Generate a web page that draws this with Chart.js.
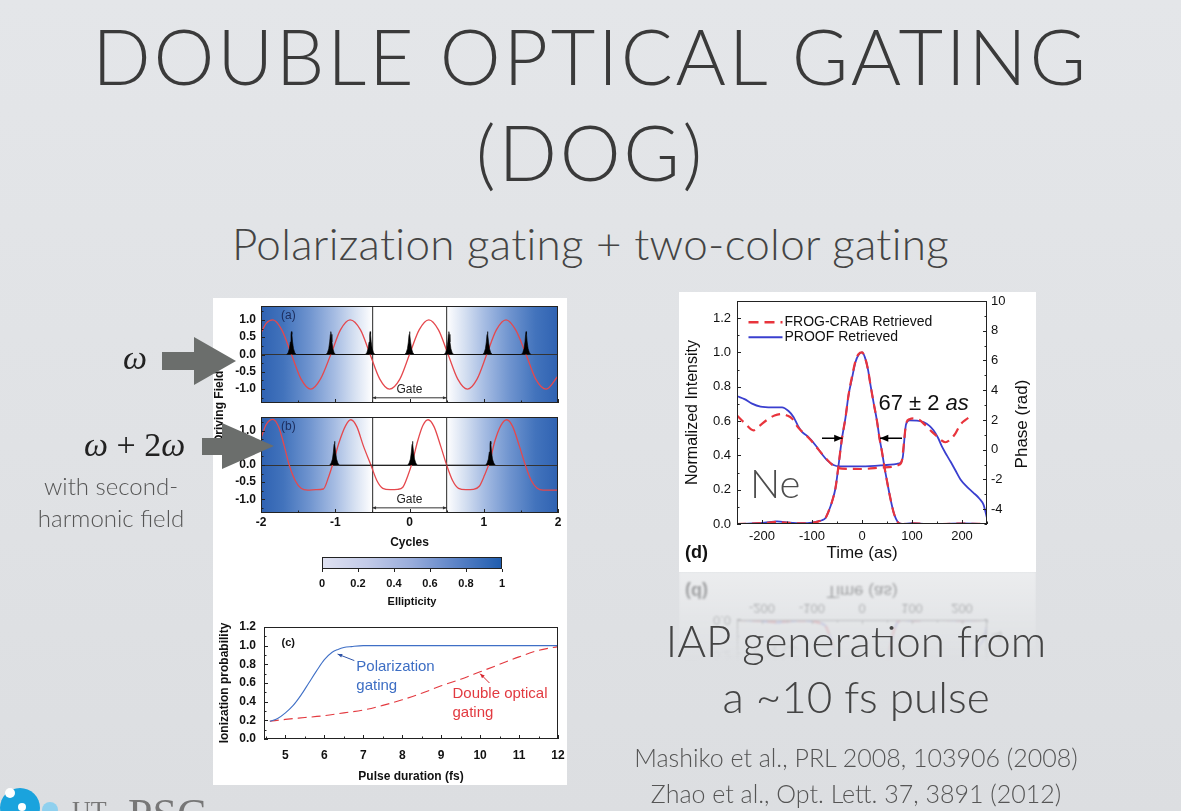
<!DOCTYPE html>
<html>
<head>
<meta charset="utf-8">
<script src="https://cdn.jsdelivr.net/npm/chart.js@4.4.0/dist/chart.umd.min.js"></script>
<style>
  html, body { margin: 0; padding: 0; }
  body {
    width: 1181px; height: 811px; overflow: hidden; position: relative;
    background: linear-gradient(180deg, #e4e6e9 0%, #e0e2e5 55%, #dcdee1 100%);
    font-family: Lato, 'Open Sans', sans-serif; color: #3b3b3b;
  }
  .abs { position: absolute; }
  .t { position: absolute; white-space: nowrap; line-height: 1; font-weight: 300; text-align: center; }
  .box { position: absolute; background: #fff; }
  .math { position: absolute; white-space: nowrap; line-height: 1; font-family: 'Liberation Serif', serif; font-style: italic; color: #222; }
</style>
</head>
<body>

<div class="t" style="left:0;width:1181px;top:17px;font-size:77px;letter-spacing:2.7px;color:#3a3a3a">DOUBLE OPTICAL GATING</div>
<div class="t" style="left:0;width:1181px;top:113px;font-size:77px;letter-spacing:2.7px;color:#3a3a3a">(DOG)</div>
<div class="t" style="left:0;width:1181px;top:221px;font-size:44px;letter-spacing:0.3px;color:#444">Polarization gating + two-color gating</div>

<!-- left figure -->
<div class="box" style="left:213px;top:298px;width:354px;height:487px"></div>
<canvas id="cA" class="abs" width="353" height="108" style="left:213px;top:300px"></canvas>
<canvas id="cB" class="abs" width="353" height="140" style="left:213px;top:411px"></canvas>
<canvas id="cBar" class="abs" width="353" height="60" style="left:213px;top:551px"></canvas>
<canvas id="cC" class="abs" width="353" height="166" style="left:213px;top:620px"></canvas>
<div class="abs" style="left:179px;top:400px;width:80px;text-align:center;transform:rotate(-90deg);font:bold 12px 'Liberation Sans',Arial,sans-serif;color:#111;line-height:14px">Driving Field</div>

<!-- right figure and its reflection -->
<div class="abs" style="left:679px;top:572px;width:357px;height:280px;transform:scaleY(-1);opacity:0.4;filter:blur(0.8px);
  -webkit-mask-image:linear-gradient(to top, #000 0%, rgba(0,0,0,0) 32%);mask-image:linear-gradient(to top, #000 0%, rgba(0,0,0,0) 32%)">
  <div class="box" style="left:0;top:0;width:357px;height:280px"></div>
  <canvas id="cDr" class="abs" width="357" height="280" style="left:0;top:0"></canvas>
</div>
<div class="box" style="left:679px;top:292px;width:357px;height:280px"></div>
<canvas id="cD" class="abs" width="357" height="280" style="left:679px;top:292px"></canvas>

<!-- side labels and arrows -->
<div class="math" style="left:123px;top:341px;font-size:34px">ω</div>
<div class="math" style="left:84px;top:428px;font-size:34px">ω <span style="font-style:normal">+ 2</span>ω</div>
<div class="t" style="left:11px;width:200px;top:474px;font-size:24px;color:#555">with second-</div>
<div class="t" style="left:11px;width:200px;top:506px;font-size:24px;color:#555">harmonic field</div>
<svg class="abs" style="left:0;top:0" width="1181" height="811">
  <polygon points="162,352 194,352 194,337 236,361 194,385 194,370 162,370" fill="#6b6e6c"/>
  <polygon points="202,438 222,438 222,423 274,446 222,469 222,455 202,455" fill="#6b6e6c"/>
</svg>

<div class="t" style="left:556px;width:600px;top:618px;font-size:44px;color:#444">IAP generation from</div>
<div class="t" style="left:556px;width:600px;top:674px;font-size:44px;color:#444">a ~10 fs pulse</div>
<div class="t" style="left:556px;width:600px;top:745px;font-size:25px;color:#555">Mashiko et al., PRL 2008, 103906 (2008)</div>
<div class="t" style="left:556px;width:600px;top:781px;font-size:25px;color:#555">Zhao et al., Opt. Lett. 37, 3891 (2012)</div>

<!-- logo (cut by the slide edge) -->
<div class="abs" style="left:0;top:788px;width:40px;height:40px;border-radius:50%;background:#1aa3dd"></div>
<div class="abs" style="left:5px;top:788px;width:10px;height:10px;border-radius:50%;background:#fff"></div>
<div class="abs" style="left:18px;top:803px;width:8px;height:8px;border-radius:50%;background:#fff"></div>
<div class="abs" style="left:42px;top:802px;width:16px;height:16px;border-radius:50%;background:#8fd0ee"></div>
<div class="abs" style="left:72px;top:798px;font:26px 'Liberation Serif',serif;color:#777;line-height:1">UT</div>
<div class="abs" style="left:128px;top:793px;font:44px 'Liberation Serif',serif;color:#777;line-height:1">PSC</div>

<script>
// (a) поле основной частоты, циклы
const A_FIELD_X = [-2.0, -1.93, -1.84, -1.72, -1.59, -1.46, -1.33, -1.2, -1.06, -0.93, -0.8, -0.66, -0.53, -0.4, -0.27, -0.13, 0.0, 0.13, 0.26, 0.39, 0.52, 0.65, 0.78, 0.91, 1.04, 1.17, 1.3, 1.43, 1.57, 1.7, 1.84, 2.0];
const A_FIELD_Y = [0.62, 0.9, 1.0, 0.71, 0.0, -0.71, -1.0, -0.71, 0.0, 0.71, 1.0, 0.71, 0.0, -0.71, -1.0, -0.71, 0.0, 0.71, 1.0, 0.71, 0.0, -0.71, -1.0, -0.71, 0.0, 0.71, 1.0, 0.71, 0.0, -0.71, -1.0, -0.62];
const A_PULSE_X = [-1.59, -1.06, -0.53, 0.0, 0.53, 1.05, 1.57];
const A_PULSE_H = 0.66;

// (b) двухцветное поле
const B_FIELD_X = [-2.0, -1.93, -1.84, -1.76, -1.68, -1.62, -1.54, -1.46, -1.37, -1.26, -1.16, -1.09, -1.03, -0.95, -0.86, -0.79, -0.71, -0.62, -0.52, -0.44, -0.36, -0.26, -0.16, -0.09, -0.02, 0.04, 0.11, 0.18, 0.25, 0.33, 0.42, 0.5, 0.58, 0.66, 0.76, 0.86, 0.94, 1.01, 1.08, 1.15, 1.23, 1.31, 1.39, 1.48, 1.56, 1.64, 1.72, 1.8, 1.9, 2.0];
const B_FIELD_Y = [0.78, 1.18, 1.33, 1.1, 0.5, 0.0, -0.45, -0.68, -0.73, -0.72, -0.7, -0.35, 0.05, 0.65, 1.15, 1.32, 1.12, 0.55, 0.0, -0.45, -0.68, -0.72, -0.71, -0.65, -0.3, 0.1, 0.7, 1.15, 1.32, 1.12, 0.55, 0.0, -0.45, -0.68, -0.72, -0.71, -0.62, -0.3, 0.1, 0.7, 1.15, 1.32, 1.12, 0.55, 0.0, -0.45, -0.68, -0.73, -0.73, -0.73];
const B_PULSE_X = [-1.01, 0.04, 1.09];
const B_PULSE_H = 0.69;

// форма аттосекундного импульса (смещение в циклах, доля высоты)
const PULSE_DX = [-0.065, -0.045, -0.028, -0.015, -0.006, 0, 0.006, 0.015, 0.028, 0.045, 0.065];
const PULSE_SHAPE = [0, 0.08, 0.25, 0.55, 0.88, 1, 0.88, 0.55, 0.25, 0.08, 0];

// (c) вероятность ионизации от длительности импульса
const C_PG_X = [4.6, 4.8, 5.0, 5.2, 5.4, 5.6, 5.8, 6.0, 6.2, 6.35, 6.5, 6.7, 7.0, 8.0, 9.0, 10.0, 11.0, 12.0];
const C_PG_Y = [0.19, 0.22, 0.28, 0.36, 0.47, 0.6, 0.73, 0.85, 0.93, 0.96, 0.98, 0.99, 1.0, 1.0, 1.0, 1.0, 1.0, 1.0];
const C_DOG_X = [4.6, 5.0, 5.5, 6.0, 6.5, 7.0, 7.5, 8.0, 8.5, 9.0, 9.5, 10.0, 10.5, 11.0, 11.5, 12.0];
const C_DOG_Y = [0.19, 0.21, 0.23, 0.25, 0.28, 0.31, 0.36, 0.42, 0.49, 0.57, 0.64, 0.72, 0.8, 0.88, 0.95, 0.99];

// (d) интенсивность и фаза, время в ас
const D_INT_T = [-250, -220, -195, -170, -145, -120, -100, -88, -80, -73, -66, -60, -53, -47, -40, -33, -27, -20, -13, -7, 0, 6, 12, 17, 23, 30, 35, 40, 45, 50, 56, 63, 68, 73, 80, 100, 130, 160, 200, 250];
const D_PROOF_INT = [0.0, 0.003, 0.008, 0.015, 0.008, 0.005, 0.008, 0.015, 0.022, 0.035, 0.08, 0.13, 0.21, 0.34, 0.5, 0.62, 0.75, 0.85, 0.945, 0.985, 1.0, 0.97, 0.9, 0.81, 0.71, 0.6, 0.5, 0.42, 0.33, 0.25, 0.16, 0.07, 0.03, 0.008, 0.0, 0.005, 0.0, 0.0, 0.003, 0.0];
const D_FROG_INT = [0.0, 0.002, 0.006, 0.012, 0.006, 0.004, 0.007, 0.014, 0.022, 0.035, 0.08, 0.13, 0.21, 0.34, 0.5, 0.62, 0.75, 0.86, 0.95, 0.99, 1.0, 0.97, 0.9, 0.81, 0.71, 0.6, 0.5, 0.42, 0.33, 0.25, 0.16, 0.07, 0.03, 0.006, 0.0, 0.004, 0.0, 0.0, 0.002, 0.0];
const D_PROOF_PH_T = [-250, -235, -220, -203, -180, -160, -147, -137, -128, -120, -107, -93, -80, -70, -57, -45, -33, 0, 40, 70, 78, 82, 85, 88, 95, 110, 123, 135, 143, 152, 160, 170, 177, 187, 197, 210, 223, 235, 243, 250];
const D_PROOF_PH = [3.6, 3.4, 3.1, 2.9, 2.85, 2.85, 2.6, 2.2, 1.6, 1.2, 0.85, 0.3, -0.3, -0.7, -1.03, -1.12, -1.12, -1.12, -1.05, -0.95, -0.85, -0.4, 0.8, 1.7, 1.97, 1.95, 1.85, 1.6, 1.3, 0.8, 0.2, -0.4, -0.8, -1.4, -2.0, -2.5, -2.9, -3.3, -3.7, -4.6];
const D_FROG_PH_T = [-250, -235, -217, -205, -190, -175, -160, -150, -140, -128, -113, -100, -87, -73, -60, -50, -40, 0, 40, 75, 80, 84, 88, 95, 105, 113, 125, 140, 150, 160, 167, 177, 187, 197, 207, 219];
const D_FROG_PH = [2.3, 1.8, 1.3, 1.6, 2.0, 2.3, 2.4, 2.3, 2.1, 1.5, 1.0, 0.55, 0.0, -0.55, -1.0, -1.2, -1.28, -1.3, -1.2, -1.0, -0.7, 0.5, 1.7, 2.05, 2.1, 2.05, 1.7, 1.2, 0.9, 0.6, 0.5, 0.7, 1.1, 1.7, 2.0, 2.3];

const FONT = "'Liberation Sans', Arial, sans-serif";
Chart.defaults.font.family = FONT;
Chart.defaults.color = '#111';
Chart.defaults.animation = false;
Chart.defaults.events = [];
Chart.defaults.plugins.legend.display = false;
Chart.defaults.plugins.tooltip.enabled = false;
Chart.defaults.elements.point.radius = 0;

const pts = (xs, ys) => xs.map((x, i) => ({ x, y: ys[i] }));
const pulseTrain = (centers, h) => {
  const out = [];
  centers.forEach(c => PULSE_DX.forEach((d, i) => out.push({ x: c + d, y: PULSE_SHAPE[i] * h })));
  return out;
};
const fitX = h => s => { s.height = h; s.paddingLeft = 0; s.paddingRight = 0; };
const fitY = w => s => { s.width = w; s.paddingTop = 0; s.paddingBottom = 0; };
const onGrid = (v, step) => Math.abs(v / step - Math.round(v / step)) < 1e-6;
const NO_GRID = { display: false, drawTicks: false };

// заливка области графика градиентом (эллиптичность)
const shade = {
  id: 'shade',
  beforeDraw(chart, args, opts) {
    if (!opts.stops) return;
    const { ctx, chartArea: a } = chart;
    const sx = chart.scales.x;
    const g = ctx.createLinearGradient(a.left, 0, a.right, 0);
    opts.stops.forEach(([v, c]) => g.addColorStop(Math.min(1, Math.max(0, (sx.getPixelForValue(v) - a.left) / (a.right - a.left))), c));
    ctx.save();
    ctx.fillStyle = g;
    ctx.fillRect(a.left, a.top, a.right - a.left, a.bottom - a.top);
    ctx.restore();
  }
};

// рамка и засечки внутрь, как в Origin
const frame = {
  id: 'frame',
  afterDraw(chart, args, opts) {
    const { ctx, chartArea: a } = chart;
    ctx.save();
    ctx.strokeStyle = '#222';
    ctx.lineWidth = 1;
    ctx.strokeRect(Math.round(a.left) + 0.5, Math.round(a.top) + 0.5, Math.round(a.right - a.left) - 1, Math.round(a.bottom - a.top) - 1);
    const major = opts.major ?? 4, minor = opts.minor ?? 2.5;
    Object.values(chart.scales).forEach(s => {
      if (!s.options.display) return;
      s.ticks.forEach(t => {
        const len = t.label === '' ? minor : major;
        if (!len) return;
        const p = Math.round(s.getPixelForValue(t.value)) + 0.5;
        ctx.beginPath();
        if (s.position === 'left') { ctx.moveTo(a.left, p); ctx.lineTo(a.left + len, p); }
        else if (s.position === 'right') { ctx.moveTo(a.right, p); ctx.lineTo(a.right - len, p); }
        else { ctx.moveTo(p, a.bottom); ctx.lineTo(p, a.bottom - len); }
        ctx.stroke();
      });
    });
    ctx.restore();
  }
};

// подписи, стрелки и легенда внутри графиков
const notes = {
  id: 'notes',
  afterDraw(chart, args, opts) {
    const { ctx } = chart;
    const pos = (o, p) => {
      if (o.px) return p;
      return [chart.scales.x.getPixelForValue(p[0]), chart.scales[o.yAxis || 'y'].getPixelForValue(p[1])];
    };
    ctx.save();
    (opts.lines || []).forEach(l => {
      const [x1, y1] = pos(l, l.from), [x2, y2] = pos(l, l.to);
      ctx.strokeStyle = l.color; ctx.lineWidth = l.width || 1;
      ctx.setLineDash(l.dash || []);
      ctx.beginPath(); ctx.moveTo(x1, y1); ctx.lineTo(x2, y2); ctx.stroke();
    });
    ctx.setLineDash([]);
    (opts.arrows || []).forEach(r => {
      const [x1, y1] = pos(r, r.from), [x2, y2] = pos(r, r.to);
      const h = r.head || 5, ang = Math.atan2(y2 - y1, x2 - x1);
      ctx.strokeStyle = r.color; ctx.fillStyle = r.color; ctx.lineWidth = r.width || 1;
      ctx.beginPath(); ctx.moveTo(x1, y1); ctx.lineTo(x2, y2); ctx.stroke();
      const tip = (x, y, a) => {
        ctx.beginPath(); ctx.moveTo(x, y);
        ctx.lineTo(x - h * Math.cos(a - 0.4), y - h * Math.sin(a - 0.4));
        ctx.lineTo(x - h * Math.cos(a + 0.4), y - h * Math.sin(a + 0.4));
        ctx.closePath(); ctx.fill();
      };
      tip(x2, y2, ang);
      if (r.both) tip(x1, y1, ang + Math.PI);
    });
    (opts.texts || []).forEach(t => {
      const [x, y] = pos(t, [t.x, t.y]);
      ctx.save();
      ctx.translate(x, y);
      if (t.rotate) ctx.rotate(t.rotate);
      ctx.fillStyle = t.color || '#111';
      ctx.textBaseline = t.baseline || 'middle';
      const parts = t.parts || [{ text: t.text, font: t.font }];
      ctx.textAlign = 'left';
      let total = 0;
      parts.forEach(p => { ctx.font = p.font; total += ctx.measureText(p.text).width; });
      let cx = t.align === 'center' ? -total / 2 : 0;
      parts.forEach(p => { ctx.font = p.font; ctx.fillText(p.text, cx, 0); cx += ctx.measureText(p.text).width; });
      ctx.restore();
    });
    ctx.restore();
  }
};

const GATE_STOPS = [[-2, '#2f62b2'], [-1.7, '#4273bc'], [-1.35, '#6f94cf'], [-1.0, '#a7bde3'], [-0.75, '#d4dff1'], [-0.55, '#f6f8fc'], [-0.5, '#ffffff'],
  [0.5, '#ffffff'], [0.55, '#f6f8fc'], [0.75, '#d4dff1'], [1.0, '#a7bde3'], [1.35, '#6f94cf'], [1.7, '#4273bc'], [2, '#2f62b2']];

function fieldChart(id, fx, fy, px, ph, tag, withAxis) {
  return new Chart(document.getElementById(id), {
    type: 'line',
    data: {
      datasets: [
        { data: pulseTrain(px, ph), borderColor: '#000', borderWidth: 0.6, backgroundColor: '#000', fill: 'origin', tension: 0 },
        { data: pts(fx, fy), borderColor: '#e5484d', borderWidth: 1.3, fill: false, cubicInterpolationMode: 'monotone' }
      ]
    },
    options: {
      responsive: false,
      layout: { padding: { top: 6, right: 8, left: 0, bottom: 0 } },
      scales: {
        x: {
          type: 'linear', min: -2, max: 2,
          ticks: { stepSize: 0.5, autoSkip: false, maxRotation: 0, display: withAxis, padding: 2, font: { size: 12, weight: 'bold' },
            callback: v => onGrid(v, 1) ? String(v) : '' },
          grid: { drawTicks: false, lineWidth: 1.2, color: c => (c.tick && Math.abs(Math.abs(c.tick.value) - 0.5) < 1e-6) ? '#4a4a4a' : 'rgba(0,0,0,0)' },
          border: { display: false },
          title: { display: withAxis, text: 'Cycles', font: { size: 12, weight: 'bold' }, padding: { top: 0, bottom: 1 } },
          afterFit: fitX(withAxis ? 38 : 5)
        },
        y: {
          min: -1.4, max: 1.4,
          ticks: { stepSize: 0.25, autoSkip: false, includeBounds: false, padding: 5, font: { size: 12, weight: 'bold' },
            callback: v => onGrid(v, 0.5) ? v.toFixed(1) : '' },
          grid: { drawTicks: false, color: c => (c.tick && c.tick.value === 0) ? '#333' : 'rgba(0,0,0,0)' },
          border: { display: false },
          afterFit: fitY(48)
        }
      },
      plugins: {
        shade: { stops: GATE_STOPS },
        frame: {},
        notes: {
          texts: [
            { x: -1.73, y: 1.13, text: tag, font: `12px ${FONT}`, color: '#1c2c5c' },
            { x: 0, y: -1.01, text: 'Gate', font: `12px ${FONT}`, color: '#222', align: 'center' }
          ],
          arrows: [{ from: [-0.5, -1.25], to: [0.5, -1.25], color: '#333', width: 1, head: 4, both: true }]
        }
      }
    },
    plugins: [shade, frame, notes]
  });
}

function colorBar() {
  return new Chart(document.getElementById('cBar'), {
    type: 'line',
    data: { datasets: [] },
    options: {
      responsive: false,
      layout: { padding: { top: 6, left: 109, right: 64, bottom: 0 } },
      scales: {
        x: {
          type: 'linear', min: 0, max: 1,
          ticks: { stepSize: 0.2, autoSkip: false, maxRotation: 0, padding: 8, font: { size: 11, weight: 'bold' },
            callback: v => (v === 0 || v === 1) ? String(v) : v.toFixed(1) },
          grid: NO_GRID,
          border: { display: false },
          title: { display: true, text: 'Ellipticity', font: { size: 11, weight: 'bold' }, padding: { top: 0, bottom: 2 } },
          afterFit: fitX(42)
        },
        y: { display: false, min: 0, max: 1 }
      },
      plugins: {
        shade: { stops: [[0, '#dfe1f1'], [0.25, '#c3cbe8'], [0.5, '#98acdb'], [0.75, '#5a82c6'], [1, '#1e5cae']] },
        frame: { major: -3, minor: 0 }
      }
    },
    plugins: [shade, frame]
  });
}

function ionChart() {
  return new Chart(document.getElementById('cC'), {
    type: 'line',
    data: {
      datasets: [
        { data: pts(C_PG_X, C_PG_Y), borderColor: '#3f6fc6', borderWidth: 1.1, cubicInterpolationMode: 'monotone' },
        { data: pts(C_DOG_X, C_DOG_Y), borderColor: '#e3393f', borderWidth: 1.1, borderDash: [9, 5], cubicInterpolationMode: 'monotone' }
      ]
    },
    options: {
      responsive: false,
      layout: { padding: { top: 7, right: 8, left: 0, bottom: 0 } },
      scales: {
        x: {
          type: 'linear', min: 4.45, max: 12,
          ticks: { stepSize: 0.5, autoSkip: false, includeBounds: false, maxRotation: 0, padding: 9, font: { size: 12, weight: 'bold' },
            callback: v => onGrid(v, 1) ? String(v) : '' },
          grid: NO_GRID,
          border: { display: false },
          title: { display: true, text: 'Pulse duration (fs)', font: { size: 12, weight: 'bold' }, padding: { top: 0, bottom: 2 } },
          afterFit: fitX(47)
        },
        y: {
          min: 0, max: 1.2,
          ticks: { stepSize: 0.1, autoSkip: false, padding: 8, font: { size: 12, weight: 'bold' },
            callback: v => onGrid(v, 0.2) ? v.toFixed(1) : '' },
          grid: NO_GRID,
          border: { display: false },
          title: { display: true, text: 'Ionization probability', font: { size: 12, weight: 'bold' }, padding: { top: 4, bottom: 0 } },
          afterFit: fitY(51)
        }
      },
      plugins: {
        frame: {},
        notes: {
          texts: [
            { x: 4.9, y: 1.03, text: '(c)', font: `bold 11px ${FONT}` },
            { x: 6.82, y: 0.775, text: 'Polarization', font: `15px ${FONT}`, color: '#3d6ec4' },
            { x: 6.82, y: 0.57, text: 'gating', font: `15px ${FONT}`, color: '#3d6ec4' },
            { x: 9.29, y: 0.48, text: 'Double optical', font: `15px ${FONT}`, color: '#e23a40' },
            { x: 9.29, y: 0.275, text: 'gating', font: `15px ${FONT}`, color: '#e23a40' }
          ],
          arrows: [
            { from: [6.77, 0.84], to: [6.34, 0.91], color: '#2f54a8', width: 1, head: 5 },
            { from: [10.24, 0.6], to: [10.0, 0.7], color: '#d7262e', width: 1, head: 5 }
          ]
        }
      }
    },
    plugins: [frame, notes]
  });
}

function makeD() {
  const RED = '#e8343c', BLUE = '#3a3fcf';
  return {
    type: 'line',
    data: {
      datasets: [
        { data: pts(D_INT_T, D_FROG_INT), yAxisID: 'y', borderColor: RED, borderWidth: 2.2, borderDash: [9, 6], cubicInterpolationMode: 'monotone' },
        { data: pts(D_FROG_PH_T, D_FROG_PH), yAxisID: 'y2', borderColor: RED, borderWidth: 2.2, borderDash: [9, 6], cubicInterpolationMode: 'monotone' },
        { data: pts(D_INT_T, D_PROOF_INT), yAxisID: 'y', borderColor: BLUE, borderWidth: 1.8, cubicInterpolationMode: 'monotone' },
        { data: pts(D_PROOF_PH_T, D_PROOF_PH), yAxisID: 'y2', borderColor: BLUE, borderWidth: 1.8, cubicInterpolationMode: 'monotone' }
      ]
    },
    options: {
      responsive: false,
      layout: { padding: { top: 9, right: 0, left: 0, bottom: 0 } },
      scales: {
        x: {
          type: 'linear', min: -250, max: 250,
          ticks: { stepSize: 50, autoSkip: false, maxRotation: 0, padding: 5, font: { size: 13 },
            callback: v => onGrid(v, 100) ? String(v) : '' },
          grid: NO_GRID,
          border: { display: false },
          title: { display: true, text: 'Time (as)', font: { size: 17 }, padding: { top: 0, bottom: 8 } },
          afterFit: fitX(48)
        },
        y: {
          position: 'left', min: 0, max: 1.3,
          ticks: { stepSize: 0.1, autoSkip: false, padding: 6, font: { size: 13 },
            callback: v => (onGrid(v, 0.2) && v < 1.25) ? v.toFixed(1) : '' },
          grid: NO_GRID,
          border: { display: false },
          title: { display: true, text: 'Normalized Intensity', font: { size: 16 }, padding: { top: 4, bottom: 0 } },
          afterFit: fitY(58)
        },
        y2: {
          position: 'right', min: -5, max: 10,
          ticks: { stepSize: 1, autoSkip: false, padding: 4, font: { size: 13 },
            callback: v => onGrid(v, 2) ? String(v) : '' },
          grid: NO_GRID,
          border: { display: false },
          afterFit: fitY(49)
        }
      },
      plugins: {
        frame: {},
        notes: {
          lines: [
            { from: [-227, 1.176], to: [-159, 1.176], color: RED, width: 2.5, dash: [10, 6] },
            { from: [-227, 1.089], to: [-159, 1.089], color: BLUE, width: 2 }
          ],
          arrows: [
            { from: [-80, 0.5], to: [-39, 0.5], color: '#000', width: 1.5, head: 9 },
            { from: [80, 0.5], to: [36, 0.5], color: '#000', width: 1.5, head: 9 }
          ],
          texts: [
            { x: -155, y: 1.176, text: 'FROG-CRAB Retrieved', font: `14px ${FONT}` },
            { x: -155, y: 1.089, text: 'PROOF Retrieved', font: `14px ${FONT}` },
            { x: -224, y: 0.153, text: 'Ne', font: '300 40px Lato', color: '#4d4d4d', baseline: 'alphabetic' },
            { x: 33, y: 0.663, baseline: 'alphabetic', color: '#111',
              parts: [{ text: '67 ± 2 ', font: `22px ${FONT}` }, { text: 'as', font: `italic 22px ${FONT}` }] },
            { px: true, x: 6, y: 261, text: '(d)', font: `bold 18px ${FONT}` },
            { px: true, x: 343, y: 132, text: 'Phase (rad)', font: `17px ${FONT}`, align: 'center', rotate: -Math.PI / 2 }
          ]
        }
      }
    },
    plugins: [frame, notes]
  };
}

function init() {
  fieldChart('cA', A_FIELD_X, A_FIELD_Y, A_PULSE_X, A_PULSE_H, '(a)', false);
  fieldChart('cB', B_FIELD_X, B_FIELD_Y, B_PULSE_X, B_PULSE_H, '(b)', true);
  colorBar();
  ionChart();
  new Chart(document.getElementById('cD'), makeD());
  new Chart(document.getElementById('cDr'), makeD());
}

Promise.all([document.fonts.load('300 40px Lato'), document.fonts.load(`12px ${FONT}`)])
  .catch(() => {})
  .then(init);
</script>
</body>
</html>
